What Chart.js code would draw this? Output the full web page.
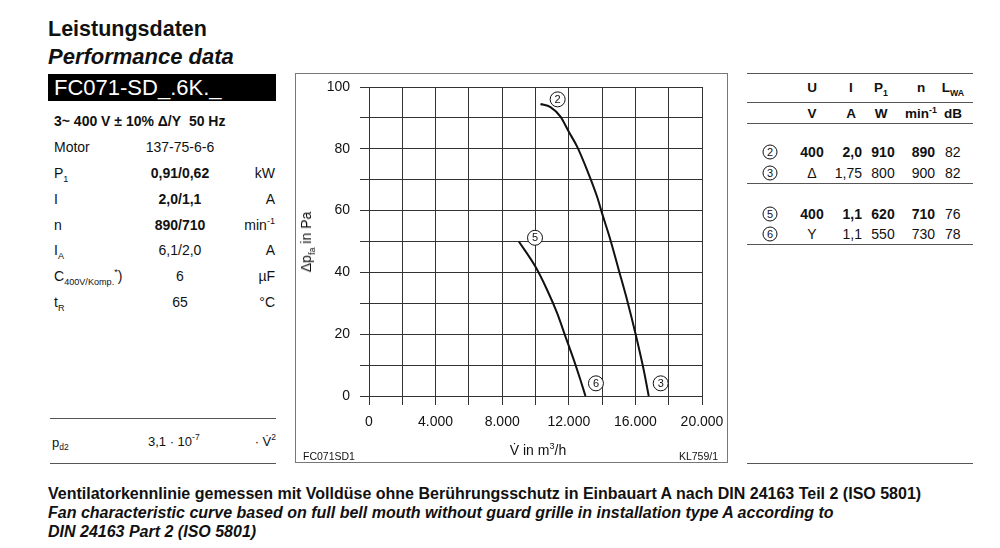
<!DOCTYPE html>
<html>
<head>
<meta charset="utf-8">
<script src="https://cdn.jsdelivr.net/npm/chart.js@4/dist/chart.umd.min.js"></script>
<style>
  html, body { margin: 0; padding: 0; background: #fff; }
  body { width: 1000px; height: 548px; position: relative; overflow: hidden;
         font-family: "Liberation Sans", Arial, sans-serif; color: #111; }
  .t { position: absolute; white-space: nowrap; line-height: 1; }
  .c { transform: translate(-50%, -50%); }
  .l { transform: translate(0, -50%); }
  .r { transform: translate(-100%, -50%); }
  .b { font-weight: bold; }
  .hl { position: absolute; height: 0; border-top: 1.5px solid #555; }
  .circ { display: inline-block; width: 13px; height: 13px; border: 1px solid #111; border-radius: 50%;
          font-size: 11px; line-height: 13px; text-align: center; }
  sub, sup { font-size: 65%; line-height: 0; }
  #frame { position: absolute; left: 295px; top: 73px; width: 431px; height: 388px; border: 1px solid #777; }
  #wrap { position: absolute; left: 295px; top: 73px; width: 432px; height: 389px; }
</style>
</head>
<body>
<div id="frame"></div>
<div id="wrap"><canvas id="fan"></canvas></div>
<script>
// Kennlinien (V in m3/h, dp_fa in Pa)
var flowHigh = [10300, 10900, 11500, 12000, 12500, 13100, 13700, 14000, 14500, 15000, 15500, 16000, 16500, 16800];
var paHigh   = [94.5, 93.5, 90.4, 85.5, 80.7, 73.1, 64.5, 59.1, 50.5, 40.8, 31.1, 20.3, 8.4, 0];
var flowLow  = [9000, 10000, 10700, 11300, 11800, 12300, 12700, 13000];
var paLow    = [50, 41.8, 34.3, 26.8, 19.2, 11.7, 5.2, 0];

// operating point markers on the curves
var markNames = ['2', '3', '5', '6'];
var markFlow  = [11330, 17520, 9970, 13630];
var markPa    = [96, 4.1, 51.2, 4.1];

var xLabels = [0, 4000, 8000, 12000, 16000, 20000];
var yLabels = [0, 20, 40, 60, 80, 100];

function pts(xs, ys) {
    return xs.map(function (x, i) { return {x: x, y: ys[i]}; });
}
function fmt(v) {
    return v >= 1000 ? (v / 1000).toFixed(3) : String(v);
}

var markers = {
    id: 'markers',
    afterDatasetsDraw: function (chart) {
        var ctx = chart.ctx;
        var xs = chart.scales.x, ys = chart.scales.y;
        ctx.save();
        for (var i = 0; i < markNames.length; i++) {
            var px = xs.getPixelForValue(markFlow[i]);
            var py = ys.getPixelForValue(markPa[i]);
            ctx.beginPath();
            ctx.arc(px, py, 7.5, 0, Math.PI * 2);
            ctx.fillStyle = '#fff';
            ctx.fill();
            ctx.lineWidth = 1;
            ctx.strokeStyle = '#111';
            ctx.stroke();
            ctx.fillStyle = '#111';
            ctx.font = '11px "Liberation Sans", Arial, sans-serif';
            ctx.textAlign = 'center';
            ctx.textBaseline = 'middle';
            ctx.fillText(markNames[i], px, py + 0.5);
        }
        ctx.restore();
    }
};

var gridStyle = { color: '#333', lineWidth: 1, tickLength: 9, tickColor: '#333' };

new Chart(document.getElementById('fan'), {
    type: 'line',
    data: {
        datasets: [
            { data: pts(flowHigh, paHigh), borderColor: '#111', borderWidth: 2, pointRadius: 0,
              cubicInterpolationMode: 'monotone', fill: false },
            { data: pts(flowLow, paLow), borderColor: '#111', borderWidth: 2, pointRadius: 0,
              cubicInterpolationMode: 'monotone', fill: false }
        ]
    },
    options: {
        responsive: true,
        maintainAspectRatio: false,
        animation: false,
        events: [],
        layout: { padding: { left: 0, top: 14, right: 25, bottom: 0 } },
        plugins: { legend: { display: false }, tooltip: { enabled: false } },
        scales: {
            x: {
                type: 'linear', min: 0, max: 20000,
                grid: gridStyle,
                border: { color: '#333', width: 1 },
                afterFit: function (s) { s.height = 66; s.paddingLeft = 0; s.paddingRight = 0; },
                ticks: {
                    stepSize: 2000, padding: 9, maxRotation: 0, autoSkip: false,
                    color: '#111', font: { size: 14, family: '"Liberation Sans", Arial, sans-serif' },
                    callback: function (v) { return xLabels.indexOf(v) >= 0 ? fmt(v) : ''; }
                }
            },
            y: {
                type: 'linear', min: 0, max: 100,
                grid: gridStyle,
                border: { color: '#333', width: 1 },
                afterFit: function (s) { s.width = 74; s.paddingTop = 0; s.paddingBottom = 0; },
                ticks: {
                    stepSize: 10, padding: 10, autoSkip: false,
                    color: '#111', font: { size: 14, family: '"Liberation Sans", Arial, sans-serif' },
                    callback: function (v) { return yLabels.indexOf(v) >= 0 ? String(v) : ''; }
                }
            }
        }
    },
    plugins: [markers]
});

// ---- page text around the diagram ----
function put(html, x, y, cls, size, extra) {
    var d = document.createElement('div');
    d.className = 't ' + (cls || 'l');
    d.style.left = x + 'px';
    d.style.top = y + 'px';
    d.style.fontSize = (size || 14) + 'px';
    if (extra) d.style.cssText += extra;
    d.innerHTML = html;
    document.body.appendChild(d);
    return d;
}
function line(x1, x2, y) {
    var d = document.createElement('div');
    d.className = 'hl';
    d.style.left = x1 + 'px';
    d.style.width = (x2 - x1) + 'px';
    d.style.top = y + 'px';
    document.body.appendChild(d);
}
function circ(n) { return '<span class="circ">' + n + '</span>'; }

// headings
put('Leistungsdaten', 48, 30, 'l b', 21.5);
put('Performance data', 48, 57, 'l b', 22, 'font-style:italic;');
var box = document.createElement('div');
box.style.cssText = 'position:absolute;left:48px;top:74px;width:228px;height:27px;background:#000;';
document.body.appendChild(box);
put('FC071-SD_.6K._', 54, 88, 'l', 22, 'color:#fff;');

// left data block
put('3~ 400 V ± 10% Δ/Y&nbsp; 50 Hz', 54, 121, 'l b', 14);
var rowY = [147, 173, 199, 225, 250, 276, 302];
var rowName = ['Motor', 'P<sub>1</sub>', 'I', 'n', 'I<sub>A</sub>', 'C<sub>400V/Komp.</sub><sup>*</sup>)', 't<sub>R</sub>'];
var rowVal = ['137-75-6-6', '<b>0,91/0,62</b>', '<b>2,0/1,1</b>', '<b>890/710</b>', '6,1/2,0', '6', '65'];
var rowUnit = ['', 'kW', 'A', 'min<sup>-1</sup>', 'A', 'µF', '°C'];
for (var i = 0; i < rowY.length; i++) {
    put(rowName[i], 54, rowY[i], 'l', 14);
    put(rowVal[i], 180, rowY[i], 'c', 14);
    if (rowUnit[i]) put(rowUnit[i], 275, rowY[i], 'r', 14);
}
line(50, 276, 418);
put('p<sub>d2</sub>', 52, 442, 'l', 13);
put('3,1 · 10<sup>-7</sup>', 148, 441, 'l', 13);
put('· V̇<sup>2</sup>', 276, 441, 'r', 13);
line(50, 276, 463);

// chart captions
put('Δp<sub>fa</sub> in Pa', 306, 242, 'c', 14, 'transform:translate(-50%,-50%) rotate(-90deg);');
put('V̇ in m<sup>3</sup>/h', 538, 450, 'c', 14);
put('FC071SD1', 303, 456, 'l', 10.5);
put('KL759/1', 718, 456, 'r', 10.5);

// right operating point table
line(747, 973, 73);
var colX = [812, 851, 881, 921, 953];
var head = ['U', 'I', 'P<sub>1</sub>', 'n', 'L<sub>WA</sub>'];
var unit = ['V', 'A', 'W', 'min<sup>-1</sup>', 'dB'];
for (var j = 0; j < 5; j++) {
    put(head[j], colX[j], 88, 'c b', 13.5);
    put(unit[j], colX[j], 114, 'c b', 13.5);
}
line(747, 973, 102);
line(747, 973, 123);
var opY = [152, 173, 214, 234];
var opName = ['2', '3', '5', '6'];
var opU = ['400', 'Δ', '400', 'Y'];
var opI = ['2,0', '1,75', '1,1', '1,1'];
var opP = ['910', '800', '620', '550'];
var opN = ['890', '900', '710', '730'];
var opL = ['82', '82', '76', '78'];
for (var k = 0; k < opY.length; k++) {
    var bold = (k === 0 || k === 2) ? 'b' : '';
    put(circ(opName[k]), 770, opY[k], 'c', 13);
    put(opU[k], 812, opY[k], 'c ' + bold, 14);
    put(opI[k], 862, opY[k], 'r ' + bold, 14);
    put(opP[k], 883, opY[k], 'c ' + bold, 14);
    put(opN[k], 935, opY[k], 'r ' + bold, 14);
    put(opL[k], 945, opY[k], 'l', 14);
}
line(747, 973, 183);
line(747, 973, 244);
line(747, 973, 463);

// footnote
put('Ventilatorkennlinie gemessen mit Volldüse ohne Berührungsschutz in Einbauart A nach DIN 24163 Teil 2 (ISO 5801)', 48, 494, 'l b', 16);
put('Fan characteristic curve based on full bell mouth without guard grille in installation type A according to', 48, 513, 'l b', 16, 'font-style:italic;');
put('DIN 24163 Part 2 (ISO 5801)', 48, 532, 'l b', 16, 'font-style:italic;');
</script>
</body>
</html>
